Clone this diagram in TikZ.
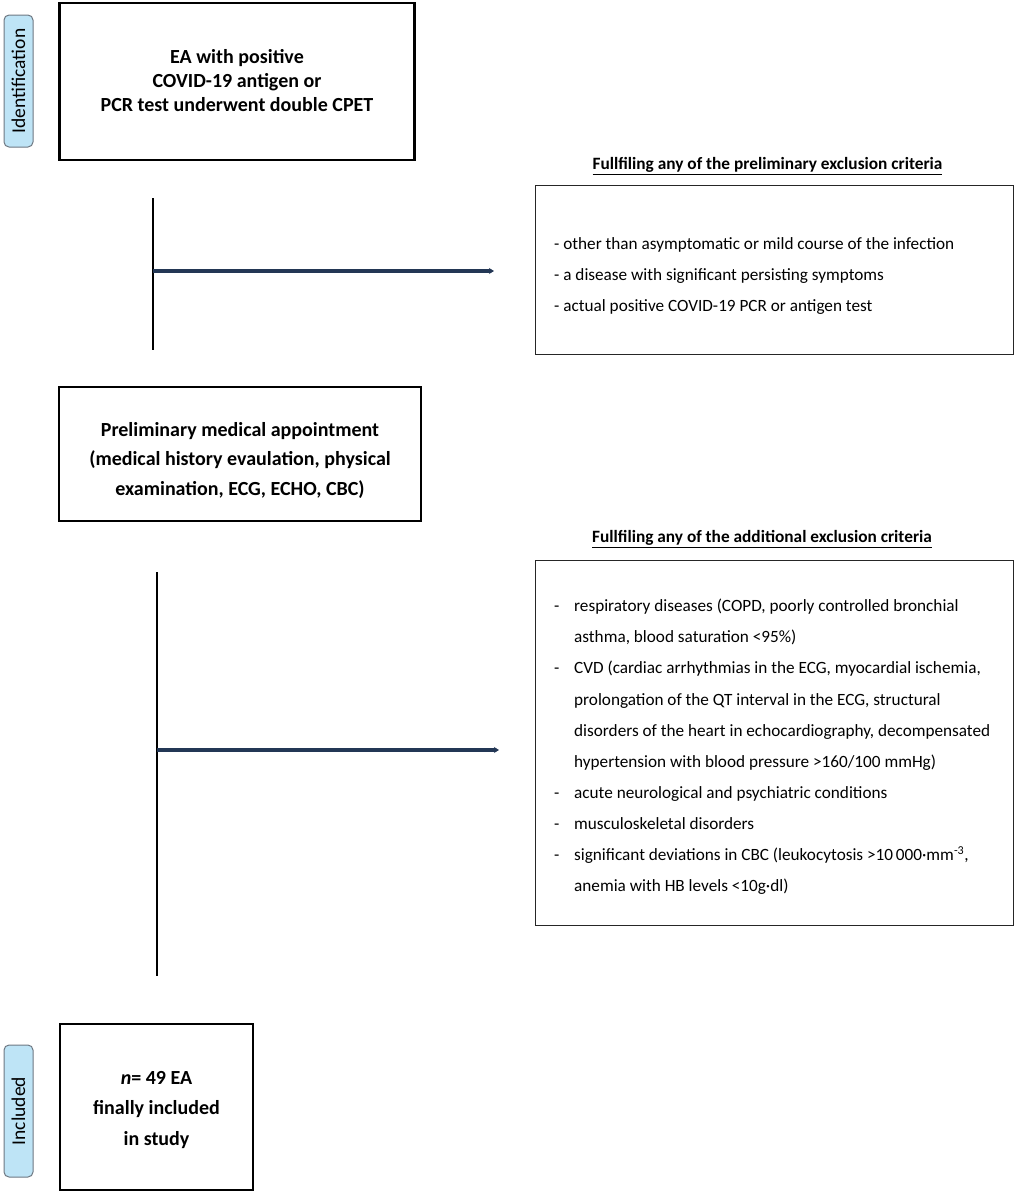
\documentclass[tikz,border=0pt]{standalone}
\usepackage{fontspec}
\setmainfont{Carlito}
\usetikzlibrary{arrows.meta}
\definecolor{lblfill}{RGB}{190,228,246}
\definecolor{lbldraw}{RGB}{110,120,130}
\definecolor{arrowc}{RGB}{35,55,85}
\begin{document}
\begin{tikzpicture}[x=1pt,y=-1pt,
  stagebox/.style={draw=lbldraw,fill=lblfill,rounded corners=5pt,line width=1pt,minimum height=29pt,inner sep=0pt,rotate=90,font=\fontsize{19.5}{21}\selectfont},
  mainbox/.style={draw=black,line width=2.8pt,inner sep=0pt},
  maintext/.style={align=center,inner sep=0pt,font=\bfseries\fontsize{20}{24}\selectfont},
  critbox/.style={draw=black!85,line width=0.9pt,inner sep=0pt},
  head/.style={font=\bfseries\fontsize{17.3}{20}\selectfont,inner sep=0pt},
  body/.style={align=left,inner sep=0pt,anchor=north west,font=\fontsize{17.2}{31.1}\selectfont},
  trunk/.style={black,line width=1.9pt},
  branch/.style={arrowc,line width=3.2pt,-{Stealth[length=5pt,width=6pt]}}]
\useasboundingbox (0,0) rectangle (1017,1195);
% labels
\node[stagebox,minimum width=132pt] (lblid) at (18.5,81) {Identification};
\node[stagebox,minimum width=132pt] (lblinc) at (18.5,1111) {Included};
% main boxes
\node[mainbox,minimum width=355pt,minimum height=157pt] (b1) at (237,81.5) {};
\node[maintext] (b1t) at (237,81) {EA with positive\\COVID-19 antigen or\\PCR test underwent double CPET};
\node[mainbox,minimum width=362pt,minimum height=134pt] (b3) at (240,454) {};
\node[maintext,font=\bfseries\fontsize{20}{29.5}\selectfont] (b3t) at (240,460) {Preliminary medical appointment\\(medical history evaulation, physical\\examination, ECG, ECHO, CBC)};
\node[mainbox,minimum width=193pt,minimum height=166pt] (b5) at (156.5,1107) {};
\node[maintext,font=\bfseries\fontsize{20}{30.5}\selectfont] (b5t) at (156.5,1109.5) {\textit{n}= 49 EA\\finally included\\in study};
% criteria boxes
\node[critbox,minimum width=478pt,minimum height=169pt] (b2) at (774,269.5) {};
\node[critbox,minimum width=478pt,minimum height=365pt] (b4) at (774,742.5) {};
\node[head] (h2) at (767.5,166) {\underline{Fullfiling any of the preliminary exclusion criteria}};
\node[head] (h4) at (762,539) {\underline{Fullfiling any of the additional exclusion criteria}};
\node[body] (t2) at (554,237) {- other than asymptomatic or mild course of the infection\\- a disease with significant persisting symptoms\\- actual positive COVID-19 PCR or antigen test};
\node[body] (t4) at (554,599) {\makebox[20pt][l]{-}respiratory diseases (COPD, poorly controlled bronchial\\
\hspace*{20pt}asthma, blood saturation <95\%)\\
\makebox[20pt][l]{-}CVD (cardiac arrhythmias in the ECG, myocardial ischemia,\\
\hspace*{20pt}prolongation of the QT interval in the ECG, structural\\
\hspace*{20pt}disorders of the heart in echocardiography, decompensated\\
\hspace*{20pt}hypertension with blood pressure >160/100 mmHg)\\
\makebox[20pt][l]{-}acute neurological and psychiatric conditions\\
\makebox[20pt][l]{-}musculoskeletal disorders\\
\makebox[20pt][l]{-}significant deviations in CBC (leukocytosis >10\,000·mm\textsuperscript{-3},\\
\hspace*{20pt}anemia with HB levels <10g·dl)};
% trunks and branches
\coordinate (v1t) at (153,198);
\coordinate (v1b) at (153,350);
\coordinate (v1m) at (153,271);
\coordinate (a1) at (494,271);
\coordinate (v2t) at (157,572);
\coordinate (v2b) at (157,976);
\coordinate (v2m) at (157,750);
\coordinate (a2) at (499,750);
\draw[trunk] (v1t) -- (v1b);
\draw[trunk] (v2t) -- (v2b);
\draw[branch] (v1m) -- (a1);
\draw[branch] (v2m) -- (a2);
\end{tikzpicture}
\end{document}
